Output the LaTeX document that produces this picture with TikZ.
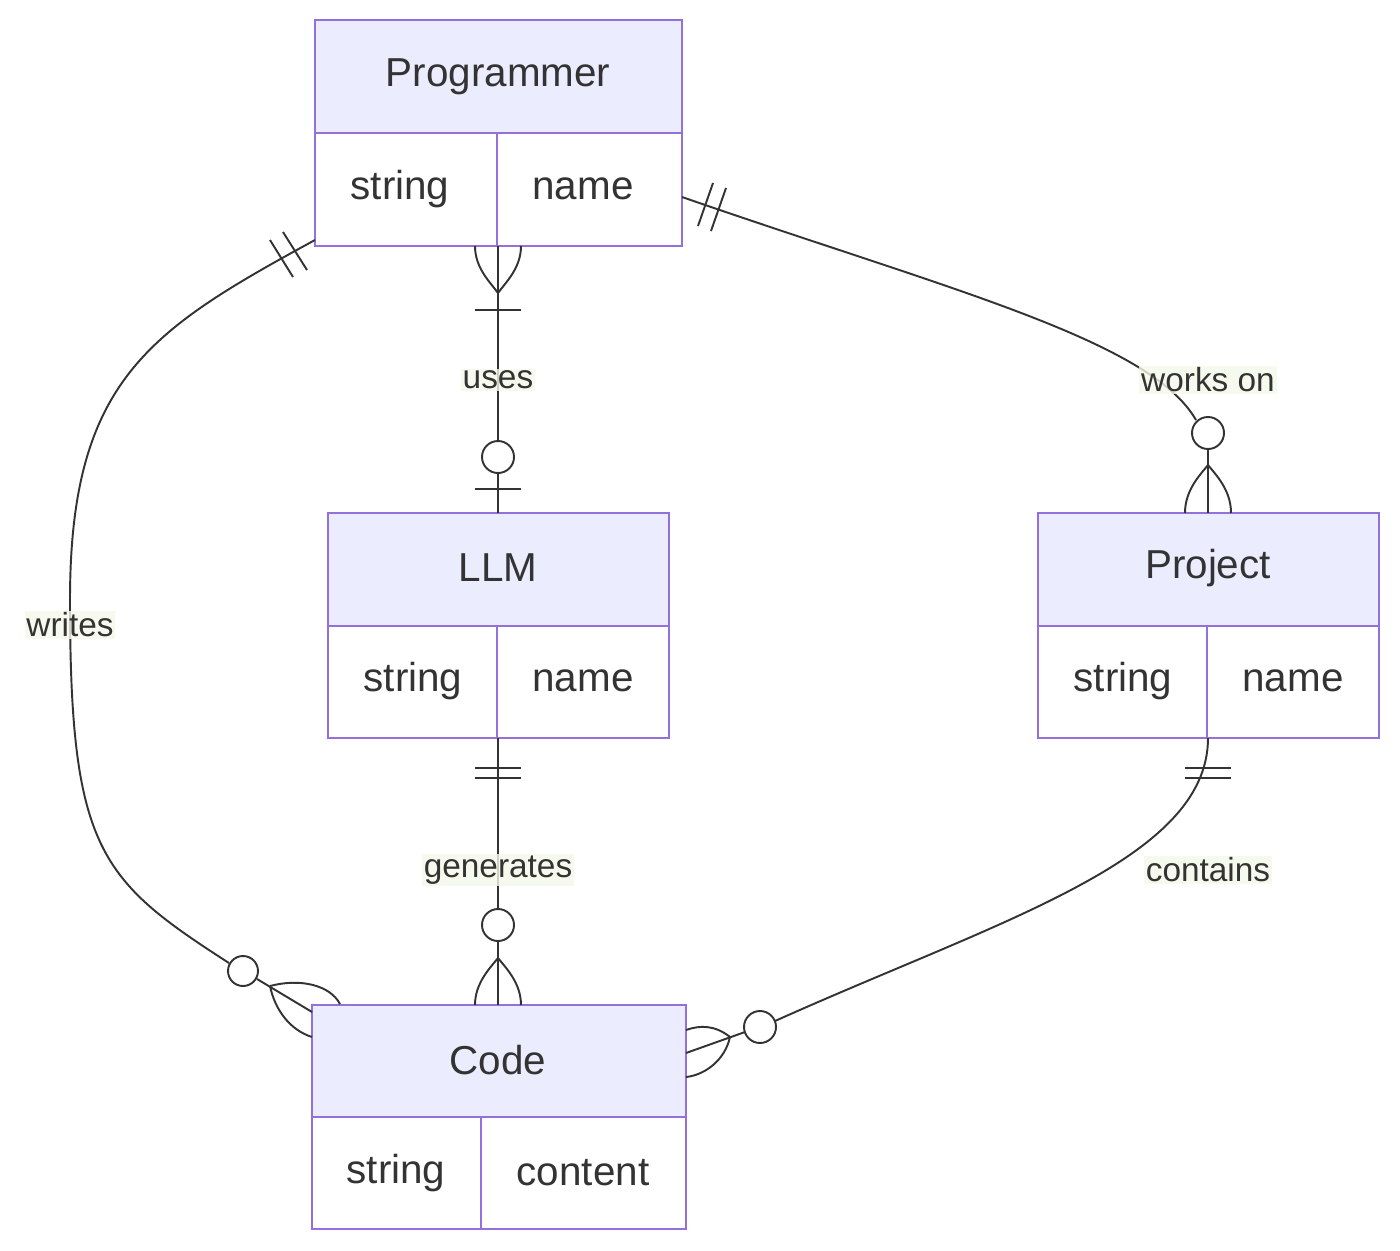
\documentclass[tikz,border=0pt]{standalone}
\usepackage{fontspec}
\setmainfont{Liberation Sans}
\definecolor{hd}{HTML}{ECECFF}
\definecolor{bd}{HTML}{9370DB}
\definecolor{tx}{HTML}{333333}
\definecolor{lb}{HTML}{F4F8E8}
\begin{document}
\begin{tikzpicture}[x=0.02cm,y=-0.02cm,
  ent/.style={draw=bd,line width=1.2pt},
  hdr/.style={ent,fill=hd},
  ttl/.style={text=tx,font=\fontsize{23}{26}\selectfont},
  cell/.style={text=tx,font=\fontsize{23}{26}\selectfont},
  lab/.style={text=tx,fill=lb,fill opacity=0.8,text opacity=1,font=\fontsize{19}{22}\selectfont,inner sep=1pt},
  rel/.style={draw=tx,line width=1.1pt}]
\useasboundingbox (0,0) rectangle (1400,1251);
% entities
\newcommand{\ent}[6]{% name x1 y1 x2 yh y2 split
}
% Programmer
\draw[hdr] (315,20) rectangle (682,133);
\draw[ent,fill=white] (315,133) rectangle (682,246);
\draw[ent] (497,133) -- (497,246);
\node[ttl] (prog) at (498,77) {Programmer};
\node[cell] (p1) at (400,189) {string};
\node[cell] (p2) at (583,189) {name};
% LLM
\draw[hdr] (328,513) rectangle (669,626);
\draw[ent,fill=white] (328,626) rectangle (669,738);
\draw[ent] (497,626) -- (497,738);
\node[ttl] (llm) at (498,568) {LLM};
\node[cell] (l1) at (413,681) {string};
\node[cell] (l2) at (583,681) {name};
% Project
\draw[hdr] (1038,513) rectangle (1379,626);
\draw[ent,fill=white] (1038,626) rectangle (1379,738);
\draw[ent] (1207,626) -- (1207,738);
\node[ttl] (proj) at (1208,568) {Project};
\node[cell] (j1) at (1123,681) {string};
\node[cell] (j2) at (1293,681) {name};
% Code
\draw[hdr] (312,1005) rectangle (686,1117);
\draw[ent,fill=white] (312,1117) rectangle (686,1229);
\draw[ent] (481,1117) -- (481,1229);
\node[ttl] (code) at (498,1060) {Code};
\node[cell] (c1) at (396,1173) {string};
\node[cell] (c2) at (583,1173) {content};
% anchors
\coordinate (pB) at (498,246); \coordinate (lT) at (498,513);
\coordinate (lB) at (498,738); \coordinate (cT) at (498,1005);
\coordinate (pL) at (315,240); \coordinate (cL) at (312,1012);
\coordinate (pR) at (682,197); \coordinate (jT) at (1208,513);
\coordinate (jB) at (1208,738); \coordinate (cR) at (686,1053);
% uses
\draw[rel] (pB) -- (498,441); \draw[rel] (498,473) -- (lT);
\draw[rel] (475,246) .. controls (475,268) and (490,282) .. (498,293);
\draw[rel] (521,246) .. controls (521,268) and (506,282) .. (498,293);
\draw[rel] (475,310) -- (521,310);
\draw[rel] (498,457) circle (16);
\draw[rel] (475,489) -- (521,489);
\node[lab] (uses) at (498,380) {uses};
% generates
\draw[rel] (lB) -- (498,909); \draw[rel] (498,941) -- (cT);
\draw[rel] (475,768) -- (521,768); \draw[rel] (475,778) -- (521,778);
\draw[rel] (498,925) circle (16);
\draw[rel] (475,1005) .. controls (475,983) and (490,968) .. (498,958);
\draw[rel] (521,1005) .. controls (521,983) and (506,968) .. (498,958);
\node[lab] (gen) at (498,870) {generates};
% writes
\draw[rel] (pL) .. controls (150,330) and (70,380) .. (70,600)
  .. controls (70,850) and (100,880) .. (229,963);
\draw[rel] (257,979) -- (cL);
\draw[rel] (243,971) circle (15);
\draw[rel] (270,240) -- (293,277); \draw[rel] (283,232) -- (307,270);
\draw[rel] (270,986) .. controls (300,978) and (330,985) .. (340,1004);
\draw[rel] (270,986) .. controls (275,1010) and (290,1030) .. (312,1037);
\node[lab] (writes) at (70,625) {writes};
% works on
\draw[rel] (pR) .. controls (950,290) and (1150,340) .. (1196,420);
\draw[rel] (1208,449) -- (jT);
\draw[rel] (1208,433) circle (16);
\draw[rel] (698,226) -- (713,183); \draw[rel] (711,231) -- (726,188);
\draw[rel] (1185,513) .. controls (1185,490) and (1200,475) .. (1208,465);
\draw[rel] (1231,513) .. controls (1231,490) and (1216,475) .. (1208,465);
\node[lab] (works) at (1208,380) {works on};
% contains
\draw[rel] (jB) .. controls (1208,860) and (1000,920) .. (775,1021);
\draw[rel] (745,1032) -- (cR);
\draw[rel] (760,1027) circle (16);
\draw[rel] (1185,768) -- (1231,768); \draw[rel] (1185,778) -- (1231,778);
\draw[rel] (730,1037) .. controls (715,1025) and (700,1025) .. (686,1030);
\draw[rel] (730,1037) .. controls (725,1060) and (705,1075) .. (686,1077);
\node[lab] (cont) at (1208,870) {contains};
\end{tikzpicture}
\end{document}
